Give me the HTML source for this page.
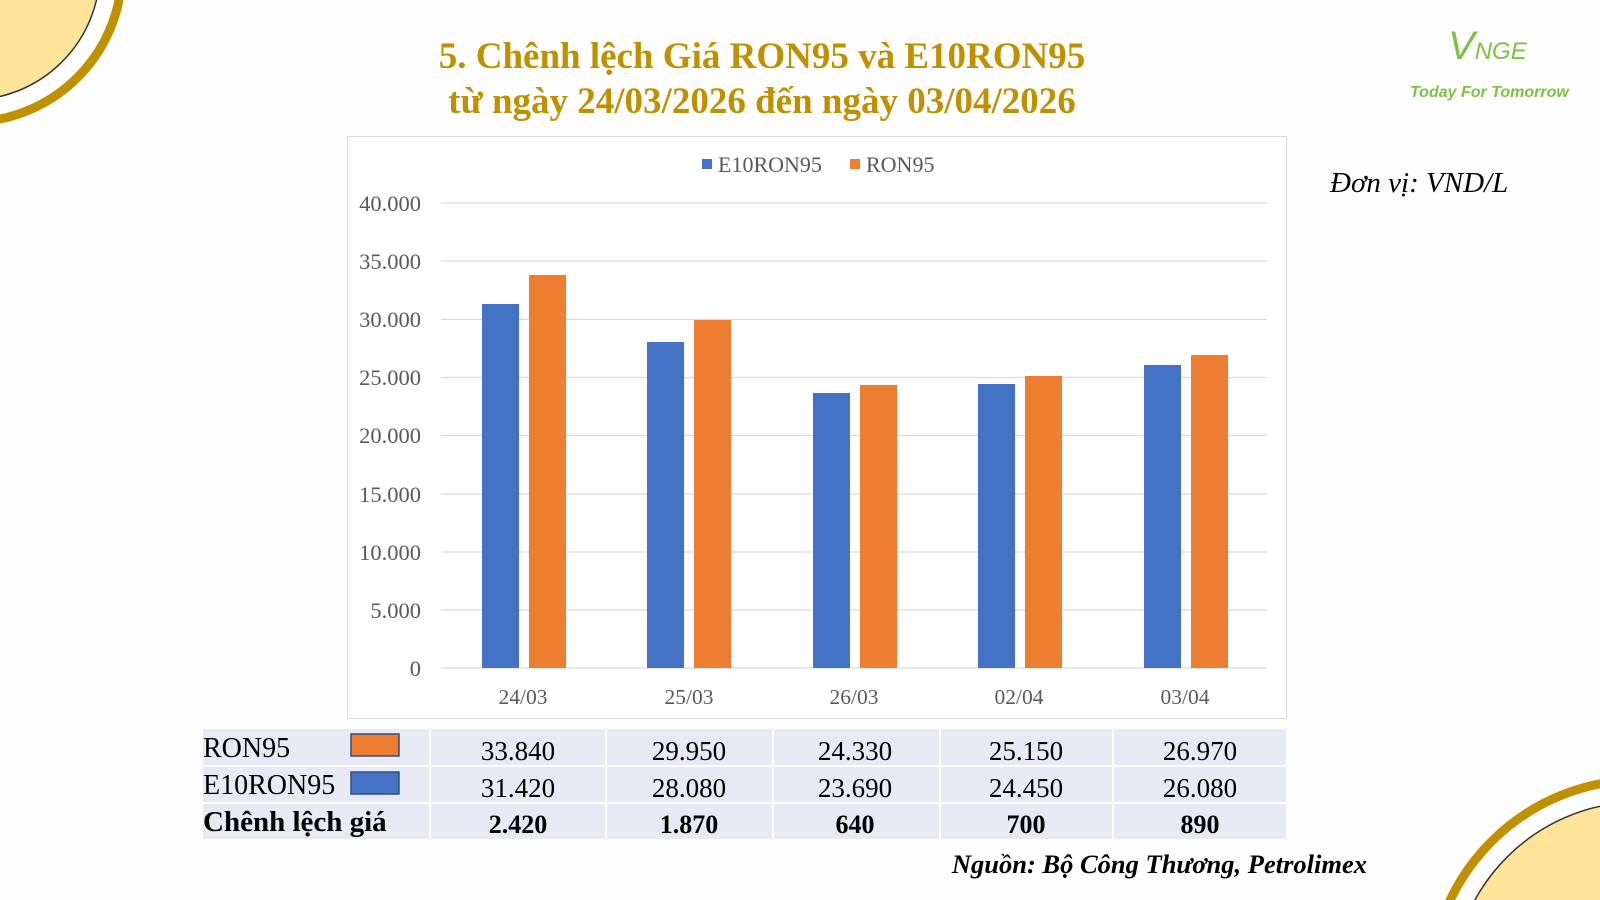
<!DOCTYPE html>
<html style="overflow:hidden"><head><meta charset="utf-8"><style>
html,body{margin:0;width:1600px;height:900px;overflow:hidden}
body{background:#fdfdfd;position:relative;font-family:"Liberation Serif",serif}
.a{position:absolute}
.t{left:0;width:1524px;text-align:center;color:#bf9000;font-weight:bold;font-size:37px;line-height:44px}
</style></head><body>
<svg class="a" style="left:0;top:0" width="1600" height="900">
<circle cx="-30" cy="-30" r="130" fill="#fde49a"/>
<circle cx="-30" cy="-30" r="130" fill="none" stroke="#333" stroke-width="1.5"/>
<circle cx="-30" cy="-30" r="152" fill="none" stroke="#bf9000" stroke-width="9"/>
<circle cx="1640" cy="990" r="188" fill="#fde49a"/>
<circle cx="1640" cy="990" r="188" fill="none" stroke="#333" stroke-width="1.5"/>
<circle cx="1640" cy="990" r="210" fill="none" stroke="#bf9000" stroke-width="9"/>
</svg>
<div class="a t" style="top:35px">5. Chênh lệch Giá RON95 và E10RON95</div>
<div class="a t" style="top:80px">từ ngày 24/03/2026 đến ngày 03/04/2026</div>
<div class="a" style="left:1448px;top:26px;color:#7dc242;font-family:'Liberation Sans',sans-serif;font-style:italic;font-size:40px;line-height:40px">V<span style="font-size:24px">NGE</span></div>
<div class="a" style="left:1410px;top:84px;color:#7dc242;font-family:'Liberation Sans',sans-serif;font-style:italic;font-weight:bold;font-size:16px">Today For Tomorrow</div>
<div class="a" style="left:1330px;top:167px;font-style:italic;font-size:29px">Đơn vị: VND/L</div>
<svg class="a" style="left:0;top:0" width="1600" height="900" font-family="Liberation Serif, serif">
<rect x="347.5" y="136.5" width="939" height="582" fill="#fff" stroke="#d9d9d9"/>
<g stroke="#d9d9d9" stroke-width="1.3">
<line x1="441" x2="1267" y1="203" y2="203"/><line x1="441" x2="1267" y1="261" y2="261"/><line x1="441" x2="1267" y1="319.5" y2="319.5"/><line x1="441" x2="1267" y1="377.5" y2="377.5"/><line x1="441" x2="1267" y1="435.5" y2="435.5"/><line x1="441" x2="1267" y1="494" y2="494"/><line x1="441" x2="1267" y1="552" y2="552"/><line x1="441" x2="1267" y1="610" y2="610"/><line x1="441" x2="1267" y1="668" y2="668"/>
</g>
<g font-size="22.5" fill="#595959" text-anchor="end">
<text x="421" y="211">40.000</text><text x="421" y="269">35.000</text><text x="421" y="327">30.000</text><text x="421" y="385">25.000</text><text x="421" y="443">20.000</text><text x="421" y="502">15.000</text><text x="421" y="560">10.000</text><text x="421" y="618">5.000</text><text x="421" y="676">0</text>
</g>
<g fill="#4472c4">
<rect x="482" y="304" width="37" height="364"/><rect x="647" y="342" width="37" height="326"/><rect x="813" y="393" width="37" height="275"/><rect x="978" y="384" width="37" height="284"/><rect x="1144" y="365" width="37" height="303"/>
</g>
<g fill="#ed7d31">
<rect x="529" y="275" width="37" height="393"/><rect x="694" y="320" width="37" height="348"/><rect x="860" y="385" width="37" height="283"/><rect x="1025" y="376" width="37" height="292"/><rect x="1191" y="355" width="37" height="313"/>
</g>
<g font-size="21.5" fill="#595959" text-anchor="middle">
<text x="523" y="704">24/03</text><text x="689" y="704">25/03</text><text x="854" y="704">26/03</text><text x="1019" y="704">02/04</text><text x="1185" y="704">03/04</text>
</g>
<rect x="702" y="159" width="10" height="10" fill="#4472c4"/>
<text x="718" y="172" font-size="22" fill="#595959">E10RON95</text>
<rect x="850" y="159" width="10" height="10" fill="#ed7d31"/>
<text x="866" y="172" font-size="22" fill="#595959">RON95</text>
</svg>
<svg class="a" style="left:0;top:0" width="1600" height="900" font-family="Liberation Serif, serif" font-size="26">
<g fill="#e7e9f4">
<rect x="203" y="729" width="226" height="36"/><rect x="431" y="729" width="174" height="36"/><rect x="607" y="729" width="165" height="36"/><rect x="774" y="729" width="165" height="36"/><rect x="941" y="729" width="171" height="36"/><rect x="1114" y="729" width="172" height="36"/>
<rect x="203" y="767" width="226" height="35"/><rect x="431" y="767" width="174" height="35"/><rect x="607" y="767" width="165" height="35"/><rect x="774" y="767" width="165" height="35"/><rect x="941" y="767" width="171" height="35"/><rect x="1114" y="767" width="172" height="35"/>
<rect x="203" y="804" width="226" height="35"/><rect x="431" y="804" width="174" height="35"/><rect x="607" y="804" width="165" height="35"/><rect x="774" y="804" width="165" height="35"/><rect x="941" y="804" width="171" height="35"/><rect x="1114" y="804" width="172" height="35"/>
</g>
<rect x="351" y="734" width="48" height="22" fill="#ed7d31" stroke="#2f4f7f" stroke-width="1.5"/>
<rect x="351" y="772" width="48" height="22" fill="#4472c4" stroke="#2f4f7f" stroke-width="1.5"/>
<g font-size="28">
<text x="203" y="757">RON95</text>
<text x="203" y="794">E10RON95</text>
<text x="203" y="831" font-weight="bold" font-size="29">Chênh lệch giá</text>
</g>
<g text-anchor="middle" font-size="27">
<text x="518" y="760">33.840</text><text x="689" y="760">29.950</text><text x="855" y="760">24.330</text><text x="1026" y="760">25.150</text><text x="1200" y="760">26.970</text>
<text x="518" y="797">31.420</text><text x="689" y="797">28.080</text><text x="855" y="797">23.690</text><text x="1026" y="797">24.450</text><text x="1200" y="797">26.080</text>
<g font-weight="bold" font-size="26"><text x="518" y="833">2.420</text><text x="689" y="833">1.870</text><text x="855" y="833">640</text><text x="1026" y="833">700</text><text x="1200" y="833">890</text></g>
</g>
<text x="1367" y="873" text-anchor="end" font-style="italic" font-weight="bold" font-size="26.5">Nguồn: Bộ Công Thương, Petrolimex</text>
</svg>
</body></html>
